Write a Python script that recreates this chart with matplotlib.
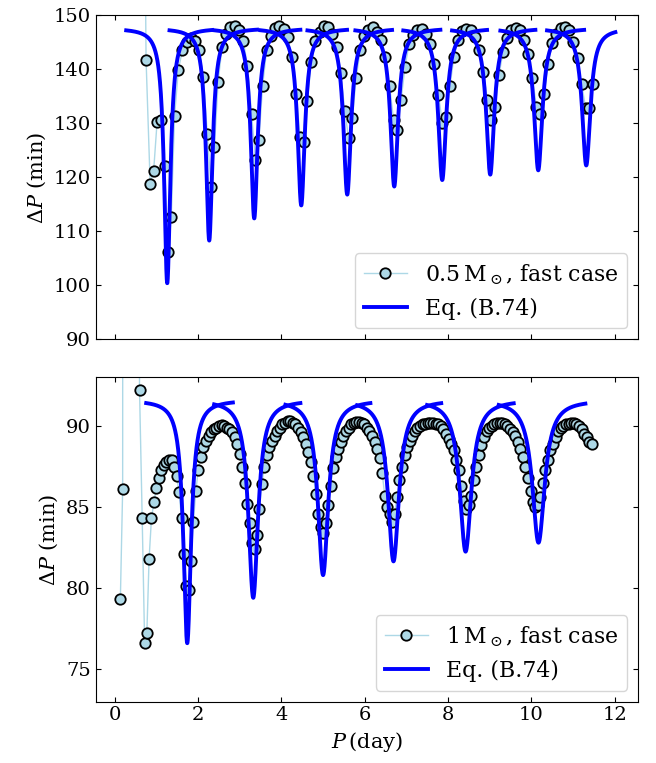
import numpy as np
import matplotlib
matplotlib.use('Agg')
import matplotlib.pyplot as plt

plt.rcParams.update({
    'font.family': 'serif',
    'font.serif': ['DejaVu Serif'],
    'mathtext.fontset': 'dejavuserif',
    'xtick.direction': 'in',
    'ytick.direction': 'in',
    'xtick.top': True,
    'ytick.right': True,
    'xtick.labelsize': 14,
    'ytick.labelsize': 14,
})

# ---- 0.5 Msun, fast case: first period (day) and Delta P (min) of consecutive modes
top_p0 = 0.47
top_dp = [413, 141.8, 118.8, 121.1, 130.3, 130.7, 122.1, 106.1, 112.6, 131.3,
          139.9, 143.5, 145.1, 145.8, 145.3, 143.5, 138.5, 128.0, 118.2, 125.6,
          137.6, 144.1, 146.6, 147.8, 148.1, 147.3, 145.3, 140.6, 131.8, 123.3,
          127.0, 137.0, 143.5, 146.1, 147.7, 148.0, 147.5, 145.9, 142.2, 135.5,
          127.5, 126.5, 134.1, 141.4, 145.2, 146.9, 148.0, 147.8, 146.6, 144.1,
          139.3, 132.2, 127.3, 130.9, 138.3, 143.5, 146.1, 147.3, 147.8, 146.9,
          145.4, 142.3, 136.9, 130.6, 128.8, 134.3, 140.4, 144.6, 146.3, 147.2,
          147.5, 146.6, 144.6, 140.9, 135.2, 130.1, 131.2, 136.9, 142.2, 145.4,
          147.1, 147.5, 147.3, 146.0, 143.6, 139.5, 134.3, 130.7, 133.1, 138.9,
          143.2, 145.7, 147.2, 147.7, 147.2, 145.5, 142.9, 138.3, 133.0, 131.7,
          135.5, 140.9, 144.8, 146.6, 147.7, 147.8, 147.2, 145.1, 142.0, 137.2,
          132.8, 132.8, 137.2]

# Eq. (B.74) dips, 0.5 Msun
top_level = 147.6
top_dip_p = [1.265, 2.273, 3.353, 4.481, 5.585, 6.713, 7.865, 9.017, 10.169, 11.321]
top_dip_min = [100.4, 108.3, 112.4, 114.8, 116.8, 118.3, 119.5, 120.5, 121.3, 122.2]
top_dip_w = [0.09, 0.095, 0.10, 0.105, 0.11, 0.11, 0.115, 0.115, 0.12, 0.12]
top_seg_start = [0.28, 1.32, 2.39, 3.50, 4.63, 5.78, 6.93, 8.10, 9.26, 10.38]
top_seg_end = [2.34, 3.42, 4.46, 5.58, 6.66, 7.82, 8.94, 10.10, 11.27, 12.02]

# ---- 1 Msun, fast case
bot_p0 = 0.14
bot_dp = [79.3, 86.1, 497, 92.2, 84.3, 76.6, 77.2, 81.8, 84.3, 85.3, 86.2, 86.8,
          87.3, 87.6, 87.8, 87.9, 87.9, 87.5, 86.9, 85.9, 84.3, 82.1, 80.1, 79.9,
          81.7, 84.1, 86.0, 87.3, 88.1, 88.7, 89.1, 89.4, 89.6, 89.8, 89.9, 90.0,
          90.05, 90.0, 89.9, 89.8, 89.6, 89.3, 88.9, 88.3, 87.5, 86.5, 85.2, 84.0,
          82.8, 82.4,
          83.3, 84.9, 86.4, 87.5, 88.2, 88.7, 89.1, 89.4, 89.7, 89.9, 90.1, 90.2,
          90.3, 90.3, 90.2, 90.1, 89.9, 89.6, 89.3, 88.9, 88.4, 87.8, 86.9, 85.8,
          84.6, 83.8, 83.4,
          84.0, 85.1, 86.3, 87.4, 88.1, 88.6, 89.0, 89.4, 89.7, 89.9, 90.1, 90.2,
          90.25, 90.25, 90.2, 90.1, 89.9, 89.7, 89.4, 89.0, 88.6, 88.0, 87.1, 85.7,
          85.0, 84.6, 84.1,
          84.6, 85.6, 86.7, 87.5, 88.2, 88.7, 89.1, 89.4, 89.7, 89.9, 90.0, 90.1,
          90.15, 90.2, 90.2, 90.2, 90.15, 90.1, 90.0, 89.8, 89.5, 89.2, 88.9, 88.5,
          87.9, 87.3, 86.3, 85.4, 84.9,
          85.1, 85.7, 86.7, 87.5, 88.2, 88.8, 89.3, 89.7, 89.9, 90.0, 90.1, 90.2,
          90.2, 90.2, 90.1, 90.0, 89.8, 89.6, 89.4, 89.0, 88.6, 88.1, 87.5, 86.8,
          86.0, 85.3, 85.0,
          85.1, 85.6, 86.5, 87.3, 87.9, 88.5, 88.9, 89.3, 89.7, 89.9, 90.0, 90.1,
          90.15, 90.2, 90.2, 90.1, 90.0, 89.8, 89.5, 89.3, 89.0, 88.9]

bot_level = 91.6
bot_dip_p = [1.745, 3.329, 5.005, 6.695, 8.425, 10.175]
bot_dip_min = [76.6, 79.4, 80.8, 81.65, 82.25, 82.8]
bot_dip_w = [0.11, 0.14, 0.15, 0.16, 0.17, 0.18]
bot_seg_start = [0.76, 2.39, 4.10, 5.82, 7.50, 9.22]
bot_seg_end = [2.84, 4.46, 6.14, 7.84, 9.58, 11.30]


def periods(p0, dp):
    # P_{n+1} = P_n + Delta P_n  (Delta P in minutes)
    dp = np.asarray(dp, dtype=float)
    return p0 + np.concatenate([[0.0], np.cumsum(dp[:-1])]) / 1440.0


def dip_curve(c, ymin, w, level, p_start, p_end):
    p = np.linspace(p_start, p_end, 600)
    return p, level - (level - ymin) * w**2 / ((p - c)**2 + w**2)


def draw_panel(ax, p0, dp, level, dips, mins, widths, starts, ends, label):
    ax.plot(periods(p0, dp), dp, '-o', color='lightblue', lw=1.0,
            ms=7.5, mfc='lightblue', mec='black', mew=1.3, label=label)
    for k, (c, m, w, s, e) in enumerate(zip(dips, mins, widths, starts, ends)):
        p, y = dip_curve(c, m, w, level, s, e)
        ax.plot(p, y, color='blue', lw=2.8,
                label='Eq. (B.74)' if k == 0 else None)
    ax.set_ylabel(r'$\Delta P$ (min)', fontsize=15)
    ax.legend(loc='lower right', fontsize=15.8, handlelength=2.0,
              borderaxespad=0.5)


fig, (ax1, ax2) = plt.subplots(2, 1, figsize=(6.56, 7.63), dpi=100, sharex=True)
fig.subplots_adjust(left=0.146, right=0.973, top=0.980, bottom=0.0805, hspace=0.117)

draw_panel(ax1, top_p0, top_dp, top_level, top_dip_p, top_dip_min, top_dip_w,
           top_seg_start, top_seg_end, r'$0.5\,{\rm M}_\odot$, fast case')
ax1.set_ylim(90, 150)
ax1.set_yticks([90, 100, 110, 120, 130, 140, 150])

draw_panel(ax2, bot_p0, bot_dp, bot_level, bot_dip_p, bot_dip_min, bot_dip_w,
           bot_seg_start, bot_seg_end, r'$1\,{\rm M}_\odot$, fast case')
ax2.set_ylim(73, 93)
ax2.set_yticks([75, 80, 85, 90])

ax2.set_xlim(-0.45, 12.57)
ax2.set_xticks([0, 2, 4, 6, 8, 10, 12])
ax2.set_xlabel(r'$P\,$(day)', fontsize=15)

fig.savefig('out.png', dpi=100)
